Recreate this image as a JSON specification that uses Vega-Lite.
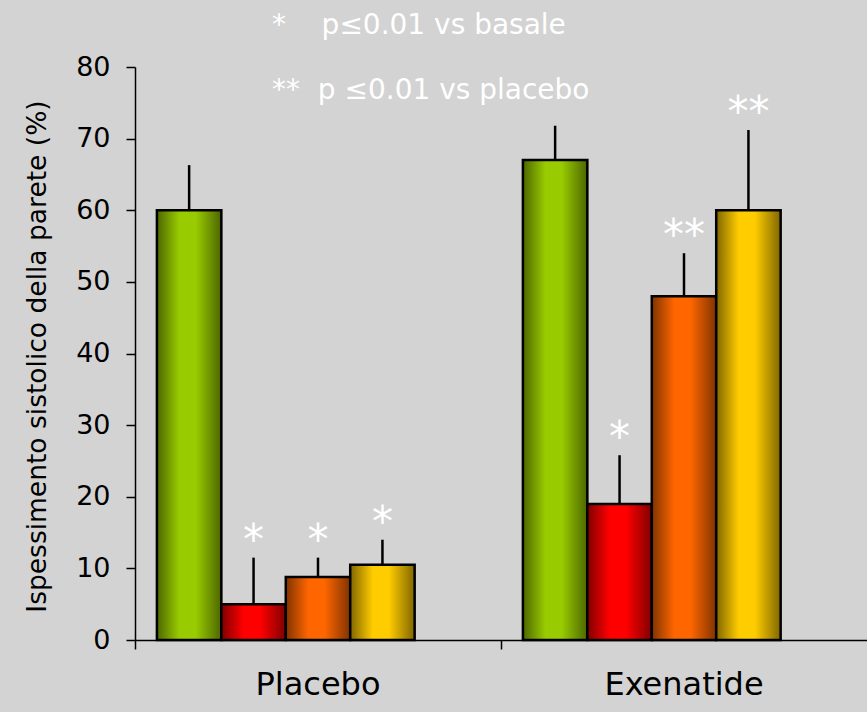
{
  "$schema": "https://vega.github.io/schema/vega-lite/v6.json",
  "autosize": {"type": "none"},
  "padding": {"left": 135, "top": 67, "right": 0, "bottom": 72},
  "width": 732,
  "height": 573,
  "background": "#d3d3d3",
  "config": {
    "font": "DejaVu Sans",
    "view": {"stroke": null}
  },
  "title": {
    "text": ["*\u00a0\u00a0\u00a0 p≤0.01 vs basale", "**\u00a0 p ≤0.01 vs placebo"],
    "color": "white",
    "fontSize": 28,
    "fontWeight": "normal",
    "lineHeight": 65,
    "anchor": "start",
    "frame": "group",
    "dx": 137,
    "offset": -52
  },
  "data": {
    "values": [
      {"gruppo": "Placebo", "fase": "basale", "valore": 60, "errore": 66.3, "sig": ""},
      {"gruppo": "Placebo", "fase": "t1", "valore": 5, "errore": 11.5, "sig": "*"},
      {"gruppo": "Placebo", "fase": "t2", "valore": 8.8, "errore": 11.5, "sig": "*"},
      {"gruppo": "Placebo", "fase": "t3", "valore": 10.5, "errore": 14, "sig": "*"},
      {"gruppo": "Exenatide", "fase": "basale", "valore": 67, "errore": 71.8, "sig": ""},
      {"gruppo": "Exenatide", "fase": "t1", "valore": 19, "errore": 25.8, "sig": "*"},
      {"gruppo": "Exenatide", "fase": "t2", "valore": 48, "errore": 54, "sig": "**"},
      {"gruppo": "Exenatide", "fase": "t3", "valore": 60, "errore": 71.2, "sig": "**"}
    ]
  },
  "encoding": {
    "x": {
      "field": "gruppo",
      "type": "nominal",
      "sort": ["Placebo", "Exenatide"],
      "scale": {"paddingInner": 0, "paddingOuter": 0},
      "axis": {
        "title": null,
        "labelAngle": 0,
        "labelFontSize": 32,
        "labelColor": "black",
        "labelPadding": 20,
        "bandPosition": 0,
        "domainColor": "black",
        "domainWidth": 1.5,
        "tickColor": "black",
        "tickWidth": 1.5,
        "tickSize": 9
      }
    },
    "xOffset": {
      "field": "fase",
      "type": "nominal",
      "scale": {"domain": ["basale", "t1", "t2", "t3", "_"], "paddingInner": 0, "paddingOuter": 0.34}
    }
  },
  "layer": [
    {
      "mark": {"type": "bar", "stroke": "black", "strokeWidth": 2.5},
      "encoding": {
        "y": {
          "field": "valore",
          "type": "quantitative",
          "scale": {"domain": [0, 80]},
          "axis": {
            "title": "Ispessimento sistolico della parete (%)",
            "titleFontSize": 26.5,
            "titleFontWeight": "normal",
            "titleColor": "black",
            "titleX": -84,
            "titleY": 289,
            "values": [0, 10, 20, 30, 40, 50, 60, 70, 80],
            "grid": false,
            "labelFontSize": 27,
            "labelColor": "black",
            "labelPadding": 16,
            "domainColor": "black",
            "domainWidth": 1.5,
            "tickColor": "black",
            "tickWidth": 1.5,
            "tickSize": 9
          }
        },
        "fill": {
          "condition": [
            {
              "test": "datum.fase === 'basale'",
              "value": {"gradient": "linear", "x1": 0, "x2": 1, "y1": 0, "y2": 0,
                "stops": [{"offset": 0, "color": "#4d6600"}, {"offset": 0.35, "color": "#99cc00"}, {"offset": 0.6, "color": "#99cc00"}, {"offset": 1, "color": "#4d6600"}]}
            },
            {
              "test": "datum.fase === 't1'",
              "value": {"gradient": "linear", "x1": 0, "x2": 1, "y1": 0, "y2": 0,
                "stops": [{"offset": 0, "color": "#800000"}, {"offset": 0.35, "color": "#ff0000"}, {"offset": 0.6, "color": "#ff0000"}, {"offset": 1, "color": "#800000"}]}
            },
            {
              "test": "datum.fase === 't2'",
              "value": {"gradient": "linear", "x1": 0, "x2": 1, "y1": 0, "y2": 0,
                "stops": [{"offset": 0, "color": "#803300"}, {"offset": 0.35, "color": "#ff6600"}, {"offset": 0.6, "color": "#ff6600"}, {"offset": 1, "color": "#803300"}]}
            }
          ],
          "value": {"gradient": "linear", "x1": 0, "x2": 1, "y1": 0, "y2": 0,
            "stops": [{"offset": 0, "color": "#806600"}, {"offset": 0.35, "color": "#ffcc00"}, {"offset": 0.6, "color": "#ffcc00"}, {"offset": 1, "color": "#806600"}]}
        }
      }
    },
    {
      "mark": {"type": "rule", "color": "black", "strokeWidth": 2.5},
      "encoding": {
        "y": {"field": "valore", "type": "quantitative"},
        "y2": {"field": "errore"}
      }
    },
    {
      "mark": {"type": "text", "color": "white", "fontSize": 42, "baseline": "alphabetic", "dy": -4},
      "encoding": {
        "y": {"field": "errore", "type": "quantitative"},
        "text": {"field": "sig"}
      }
    }
  ]
}
